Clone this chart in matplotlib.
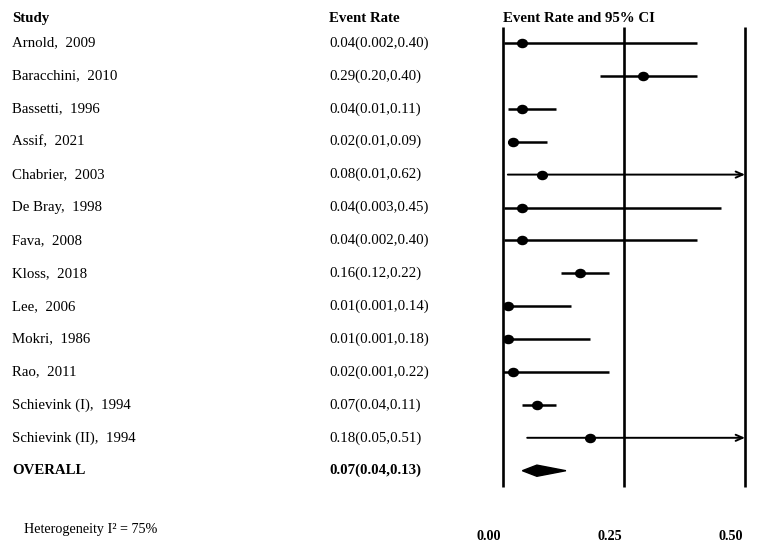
import matplotlib
matplotlib.use("Agg")
import matplotlib.pyplot as plt
from matplotlib.patches import Polygon, FancyArrowPatch
from matplotlib.path import Path
from matplotlib.transforms import Affine2D, blended_transform_factory
import matplotlib.transforms as mtransforms

plt.rcParams['font.family'] = ['Liberation Serif', 'DejaVu Serif']

studies = ["Arnold,  2009", "Baracchini,  2010", "Bassetti,  1996", "Assif,  2021",
           "Chabrier,  2003", "De Bray,  1998", "Fava,  2008", "Kloss,  2018",
           "Lee,  2006", "Mokri,  1986", "Rao,  2011", "Schievink (I),  1994",
           "Schievink (II),  1994"]
rate = [0.04, 0.29, 0.04, 0.02, 0.08, 0.04, 0.04, 0.16, 0.01, 0.01, 0.02, 0.07, 0.18]
lower = [0.002, 0.20, 0.01, 0.01, 0.01, 0.003, 0.002, 0.12, 0.001, 0.001, 0.001, 0.04, 0.05]
upper = [0.40, 0.40, 0.11, 0.09, 0.62, 0.45, 0.40, 0.22, 0.14, 0.18, 0.22, 0.11, 0.51]
rate_labels = ["0.04(0.002,0.40)", "0.29(0.20,0.40)", "0.04(0.01,0.11)", "0.02(0.01,0.09)",
               "0.08(0.01,0.62)", "0.04(0.003,0.45)", "0.04(0.002,0.40)", "0.16(0.12,0.22)",
               "0.01(0.001,0.14)", "0.01(0.001,0.18)", "0.02(0.001,0.22)", "0.07(0.04,0.11)",
               "0.18(0.05,0.51)"]
overall_label = "OVERALL"
overall_rate = 0.07
overall_lower = 0.04
overall_upper = 0.13
overall_text = "0.07(0.04,0.13)"
heterogeneity = "Heterogeneity I\u00b2 = 75%"
xticks = [0.00, 0.25, 0.50]
xtick_labels = ["0.00", "0.25", "0.50"]

W, H = 758, 547
fig = plt.figure(figsize=(W / 100, H / 100), dpi=100)
ax = fig.add_axes([503 / W, 0, 242 / W, 1])
ax.set_xlim(0, 0.5)
sp = 32.9
ax.set_ylim((H - 43) / sp, -43 / sp)
ax.axis('off')

n = len(studies)
xmax = 0.5
fs = 10.7

# vertical reference lines
for xt in xticks:
    ax.plot([xt, xt], [-0.49, n + 0.5], color='black', lw=1.9, solid_capstyle='butt', clip_on=False)

# ellipse marker
ell = Path.unit_circle().transformed(Affine2D().scale(1.2, 1.0))

for i in range(n):
    lo, hi, r = lower[i], upper[i], rate[i]
    if hi > xmax:
        arr = FancyArrowPatch((lo, i), (xmax, i), arrowstyle='->,head_length=5,head_width=2.2',
                              color='black', lw=1.4, shrinkA=0, shrinkB=0, mutation_scale=1,
                              clip_on=False)
        ax.add_patch(arr)
    else:
        ax.plot([lo, hi], [i, i], color='black', lw=1.8, solid_capstyle='butt', clip_on=False)
    ax.plot([r], [i], marker=ell, color='black', markersize=7, ls='none', clip_on=False)

# overall diamond
h = 0.17
dia = Polygon([(overall_lower, n), (overall_rate, n - h), (overall_upper, n), (overall_rate, n + h)],
              closed=True, color='black', clip_on=False)
ax.add_patch(dia)

# text columns
tr_name = blended_transform_factory(fig.transFigure, ax.transData)
for i in range(n):
    ax.text(12 / W, i, studies[i], transform=tr_name, fontsize=fs, va='center', ha='left')
    ax.text(329 / W, i, rate_labels[i], transform=tr_name, fontsize=fs, va='center', ha='left')
ax.text(12 / W, n, overall_label, transform=tr_name, fontsize=fs, va='center', ha='left', fontweight='bold')
ax.text(329 / W, n, overall_text, transform=tr_name, fontsize=fs, va='center', ha='left', fontweight='bold')

hdr_y = -0.74
ax.text(12 / W, hdr_y, "Study", transform=tr_name, fontsize=fs, va='center', ha='left', fontweight='bold')
ax.text(329 / W, hdr_y, "Event Rate", transform=tr_name, fontsize=fs, va='center', ha='left', fontweight='bold')
ax.text(0.0, hdr_y, "Event Rate and 95% CI", fontsize=fs, va='center', ha='left', fontweight='bold')

ax.text(24 / W, 14.8, heterogeneity, transform=tr_name, fontsize=fs - 0.5, va='center', ha='left')

off = mtransforms.offset_copy(ax.transData, fig=fig, x=-2, y=0, units='dots')
for xt, lab in zip(xticks, xtick_labels):
    ax.text(xt, 15.0, lab, transform=off, fontsize=fs - 0.5, va='center', ha='right', fontweight='bold')

fig.savefig("out.png", dpi=100)
